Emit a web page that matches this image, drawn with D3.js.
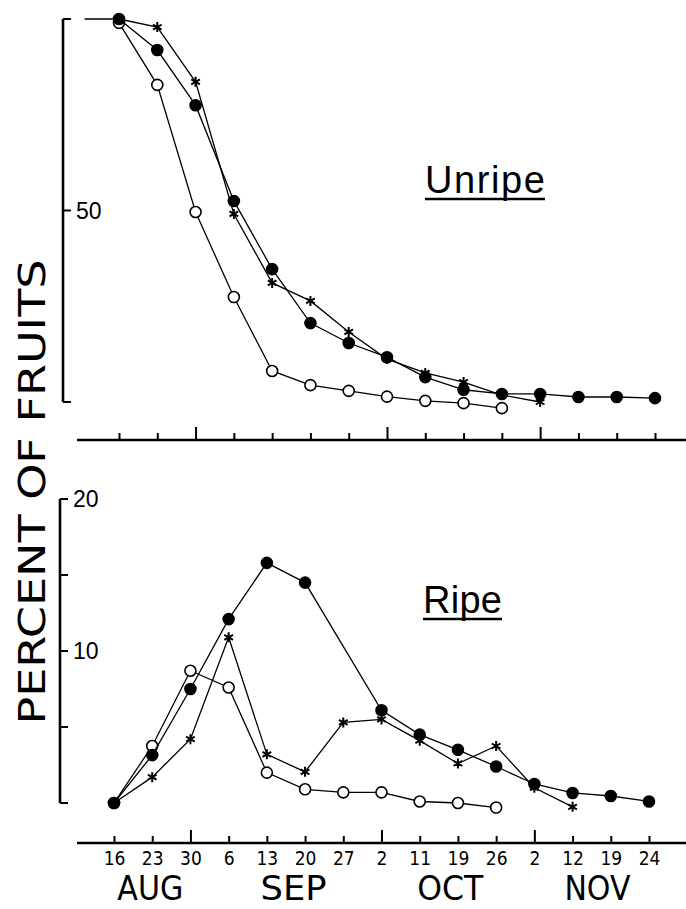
<!DOCTYPE html>
<html>
<head>
<meta charset="utf-8">
<script src="https://cdn.jsdelivr.net/npm/d3@7"></script>
<style>
  body { margin: 0; background: #fff; }
  svg { display: block; }
  .narrow { font-family: "Liberation Sans Narrow", "DejaVu Sans Condensed", "Liberation Sans", sans-serif; }
  .reg { font-family: "Liberation Sans", "DejaVu Sans", sans-serif; }
</style>
</head>
<body>
<svg></svg>
<script>
const width = 686;
const height = 909;

// sampling dates (equally spaced on the axis)
const dateKeys = ["Aug 16", "Aug 23", "Aug 30", "Sep 6", "Sep 13", "Sep 20", "Sep 27",
  "Oct 2", "Oct 11", "Oct 19", "Oct 26", "Nov 2", "Nov 12", "Nov 19", "Nov 24"];
const tickLabels = ["16", "23", "30", "6", "13", "20", "27", "2", "11", "19", "26", "2", "12", "19", "24"];
const tallTicks = ["Aug 30", "Oct 2", "Nov 2"];
const months = ["AUG", "SEP", "OCT", "NOV"];
// month label centres, in axis steps from Aug 16
const monthSteps = [0.95, 4.7, 8.8, 12.65];

// Unripe (percent of fruits)
const unripeFilled = [100, 91.9, 77.5, 52.5, 34.7, 20.6, 15.4, 11.7, 6.5, 3.2, 2.1, 2.1, 1.3, 1.3, 1.0];
const unripeOpen = [99, 82.8, 49.6, 27.4, 8.1, 4.4, 2.9, 1.4, 0.3, -0.3, -1.6, null, null, null, null];
const unripeStar = [100, 97.9, 83.6, 49.1, 31.1, 26.4, 18.3, 11.2, 7.6, 5.2, 1.8, 0, null, null, null];

// Ripe (percent of fruits)
const ripeFilled = [0, 3.15, 7.5, 12.1, 15.8, 14.5, null, 6.1, 4.5, 3.5, 2.4, 1.25, 0.66, 0.46, 0.1];
const ripeOpen = [0, 3.75, 8.7, 7.6, 2.0, 0.9, 0.7, 0.7, 0.1, 0, -0.3, null, null, null, null];
const ripeStar = [0, 1.7, 4.2, 10.9, 3.2, 2.05, 5.3, 5.5, 4.1, 2.6, 3.75, 1.0, -0.25, null, null];

const svg = d3.select("svg").attr("width", width).attr("height", height);

const xTop = d3.scalePoint().domain(dateKeys).range([119, 655]);
const xBot = d3.scalePoint().domain(dateKeys).range([114, 649]);
const yTop = d3.scaleLinear().domain([0, 100]).range([402, 19]);
const yBot = d3.scaleLinear().domain([0, 20]).range([803, 499]);

const drawYAxis = (y, xPos, ticks, labels) => {
  const g = svg.append("g");
  g.append("line")
    .attr("x1", xPos).attr("x2", xPos)
    .attr("y1", y.range()[0]).attr("y2", y.range()[1])
    .attr("stroke", "#000").attr("stroke-width", 2.6);
  g.selectAll(".tk").data(ticks).join("line")
    .attr("x1", xPos).attr("x2", xPos + 8)
    .attr("y1", (d) => y(d)).attr("y2", (d) => y(d))
    .attr("stroke", "#000").attr("stroke-width", 2);
  g.selectAll("text").data(labels).join("text")
    .attr("class", "reg")
    .attr("x", xPos + 13)
    .attr("y", (d) => y(d))
    .attr("dy", "0.36em")
    .attr("font-size", 23)
    .text((d) => d);
};

const drawXAxis = (x, yPos, withLabels) => {
  const axis = d3.axisBottom(x).tickSize(-7).tickPadding(9)
    .tickFormat((d, i) => (withLabels ? tickLabels[i] : ""));
  const g = svg.append("g")
    .attr("transform", "translate(0," + yPos + ")")
    .call(axis);
  g.select(".domain").remove();
  g.append("line")
    .attr("x1", 77).attr("x2", width)
    .attr("stroke", "#000").attr("stroke-width", 2.6);
  g.selectAll(".tick line")
    .attr("stroke-width", 2)
    .attr("y2", (d) => (tallTicks.includes(d) ? -13 : -7));
  g.selectAll(".tick text")
    .attr("class", "narrow")
    .attr("font-size", 19)
    .attr("fill", "#000");
};

const star = d3.symbol().type(d3.symbolAsterisk).size(70);

const drawSeries = (x, y, values, kind) => {
  const pts = dateKeys.map((k, i) => ({ k: k, v: values[i] })).filter((d) => d.v !== null);
  const line = d3.line().x((d) => x(d.k)).y((d) => y(d.v));
  svg.append("path")
    .attr("d", line(pts))
    .attr("fill", "none")
    .attr("stroke", "#000")
    .attr("stroke-width", 1.3);
  const g = svg.append("g");
  if (kind === "star") {
    g.selectAll("path").data(pts).join("path")
      .attr("d", star)
      .attr("transform", (d) => "translate(" + x(d.k) + "," + y(d.v) + ")")
      .attr("fill", "none")
      .attr("stroke", "#000")
      .attr("stroke-width", 2);
  } else {
    g.selectAll("circle").data(pts).join("circle")
      .attr("cx", (d) => x(d.k))
      .attr("cy", (d) => y(d.v))
      .attr("r", 5.5)
      .attr("fill", kind === "filled" ? "#000" : "#fff")
      .attr("stroke", "#000")
      .attr("stroke-width", 1.6);
  }
};

// axes
drawYAxis(yTop, 63, [0, 50, 100], [50]);
drawYAxis(yBot, 60, [0, 5, 10, 15, 20], [10, 20]);
drawXAxis(xTop, 440, false);
drawXAxis(xBot, 843, true);

// flat lead-in at 100% before the first sample
svg.append("line")
  .attr("x1", xTop(dateKeys[0]) - xTop.step() * 0.9)
  .attr("x2", xTop(dateKeys[0]))
  .attr("y1", yTop(100)).attr("y2", yTop(100))
  .attr("stroke", "#000").attr("stroke-width", 1.3);

// series
drawSeries(xTop, yTop, unripeOpen, "open");
drawSeries(xTop, yTop, unripeStar, "star");
drawSeries(xTop, yTop, unripeFilled, "filled");
drawSeries(xBot, yBot, ripeOpen, "open");
drawSeries(xBot, yBot, ripeStar, "star");
drawSeries(xBot, yBot, ripeFilled, "filled");

// month labels
svg.selectAll(".month").data(months).join("text")
  .attr("class", "narrow month")
  .attr("x", (d, i) => xBot.range()[0] + monthSteps[i] * xBot.step())
  .attr("y", 900)
  .attr("text-anchor", "middle")
  .attr("font-size", 33)
  .attr("textLength", 66)
  .attr("lengthAdjust", "spacingAndGlyphs")
  .text((d) => d);

// panel titles
const titles = [
  { t: "Unripe", x: 425, y: 193, w: 120, u: 199 },
  { t: "Ripe", x: 423, y: 613, w: 79, u: 619 }
];
titles.forEach((d) => {
  svg.append("text")
    .attr("class", "reg")
    .attr("x", d.x).attr("y", d.y)
    .attr("font-size", 38)
    .attr("textLength", d.w)
    .attr("lengthAdjust", "spacing")
    .text(d.t);
  svg.append("line")
    .attr("x1", d.x).attr("x2", d.x + d.w)
    .attr("y1", d.u).attr("y2", d.u)
    .attr("stroke", "#000").attr("stroke-width", 2.5);
});

// y title
svg.append("text")
  .attr("class", "narrow")
  .attr("transform", "translate(45,492) rotate(-90)")
  .attr("text-anchor", "middle")
  .attr("font-size", 37)
  .attr("textLength", 465)
  .attr("lengthAdjust", "spacingAndGlyphs")
  .text("PERCENT OF FRUITS");
</script>
</body>
</html>
